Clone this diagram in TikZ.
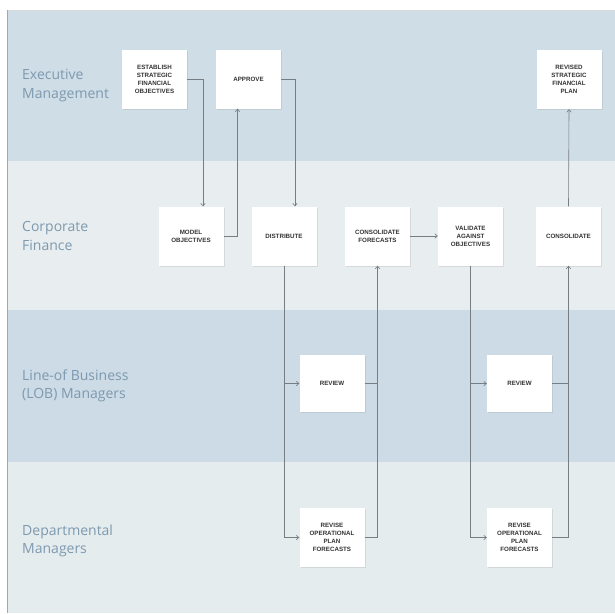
\documentclass[tikz,border=0pt]{standalone}
\usepackage{fontspec}
\setmainfont{Open Sans}
\newfontfamily\boxfont{Liberation Sans}
\usetikzlibrary{arrows.meta,shadows,calc}
\definecolor{bandA}{HTML}{CFDDE6}
\definecolor{bandB}{HTML}{E8EDF0}
\definecolor{bandC}{HTML}{CCDBE5}
\definecolor{bandD}{HTML}{E5ECEE}
\definecolor{lanetxt}{HTML}{7D99AF}
\definecolor{linec}{HTML}{767D83}
\definecolor{boxtxt}{HTML}{333333}
\tikzset{
  stepbox/.style={fill=white, minimum width=65pt, minimum height=59pt, inner sep=1pt,
    align=center, text=boxtxt, font=\boxfont\bfseries\fontsize{6.2}{8}\selectfont,
    drop shadow={opacity=0.18, shadow xshift=1.2pt, shadow yshift=-1.2pt}},
  lanelabel/.style={anchor=west, align=left, text=lanetxt, inner sep=0pt,
    font=\fontsize{14}{18.5}\selectfont},
  conn/.style={draw=linec, line width=0.6pt},
  arr/.style={conn, -{Straight Barb[length=2.6pt,width=4.5pt]}}
}
\begin{document}
\begin{tikzpicture}[x=1pt,y=-1pt]
\useasboundingbox (0,0) rectangle (615,613);
\fill[white] (0,0) rectangle (615,613);
% bands
\fill[bandA] (8,11) rectangle (615,161);
\fill[bandB] (8,161) rectangle (615,310);
\fill[bandC] (8,310) rectangle (615,462);
\fill[bandD] (8,462) rectangle (615,613);
\draw[color=black!15, line width=0.8pt] (8,10.6) -- (615,10.6);
\draw[color=black!35, line width=1.4pt] (7.6,10) -- (7.6,613);
% lane labels
\node[lanelabel] (l1) at (22,85.5) {Executive\\Management};
\node[lanelabel] (l2) at (22,236) {Corporate\\Finance};
\node[lanelabel] (l3) at (22,386) {Line-of Business\\(LOB) Managers};
\node[lanelabel] (l4) at (22,541) {Departmental\\Managers};
% boxes
\node[stepbox] (est) at (154.5,79) {ESTABLISH\\STRATEGIC\\FINANCIAL\\OBJECTIVES};
\node[stepbox] (appr) at (248.5,79) {APPROVE};
\node[stepbox] (rev) at (569,79.5) {REVISED\\STRATEGIC\\FINANCIAL\\PLAN};
\node[stepbox] (model) at (191,236) {MODEL\\OBJECTIVES};
\node[stepbox] (dist) at (284,236) {DISTRIBUTE};
\node[stepbox] (cfc) at (377.5,236) {CONSOLIDATE\\FORECASTS};
\node[stepbox] (val) at (470.5,236) {VALIDATE\\AGAINST\\OBJECTIVES};
\node[stepbox] (cons) at (568.5,236) {CONSOLIDATE};
\node[stepbox, minimum height=57pt] (rv1) at (332,383.5) {REVIEW};
\node[stepbox, minimum height=57pt] (rv2) at (519.5,383.5) {REVIEW};
\node[stepbox] (ro1) at (332,537.5) {REVISE\\OPERATIONAL\\PLAN\\FORECASTS};
\node[stepbox] (ro2) at (519.5,537.5) {REVISE\\OPERATIONAL\\PLAN\\FORECASTS};
% connectors
\draw[arr] (est.east) -| ([xshift=12pt]model.north);
\draw[arr] (model.east) -| ([xshift=-11pt]appr.south);
\draw[arr] (appr.east) -| ([xshift=11pt]dist.north);
\draw[arr] (dist.south) |- (rv1.west);
\draw[arr] (dist.south) |- (ro1.west);
\draw[conn] (rv1.east) -| (cfc.south);
\draw[arr] (ro1.east) -| (cfc.south);
\draw[arr] (cfc.east) -- (val.west);
\draw[arr] (val.south) |- (rv2.west);
\draw[arr] (val.south) |- (ro2.west);
\draw[conn] (rv2.east) -| (cons.south);
\draw[arr] (ro2.east) -| (cons.south);
\draw[arr] (cons.north) -- (rev.south);
\end{tikzpicture}
\end{document}
